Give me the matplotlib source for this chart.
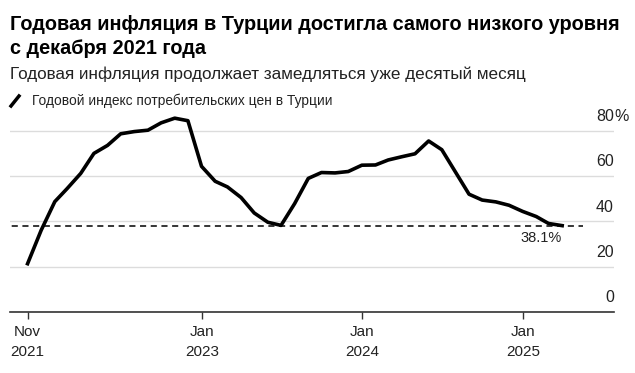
import matplotlib
matplotlib.use("Agg")
import matplotlib.pyplot as plt
import matplotlib.transforms as mtransforms
from matplotlib.lines import Line2D
import pandas as pd

# Turkey CPI, year-over-year %, monthly (plotted at month end)
months = pd.date_range("2021-11-30", "2025-03-31", freq="ME")
cpi_yoy = [21.31, 36.08,
           48.69, 54.44, 61.14, 69.97, 73.50, 78.62, 79.60, 80.21, 83.45, 85.51, 84.39, 64.27,
           57.68, 55.18, 50.51, 43.68, 39.59, 38.21, 47.83, 58.94, 61.53, 61.36, 61.98, 64.77,
           64.86, 67.07, 68.50, 69.80, 75.45, 71.60, 61.78, 51.97, 49.38, 48.58, 47.09, 44.38,
           42.12, 39.05, 38.10]

latest = 38.1
y_ticks = [0, 20, 40, 60, 80]
y_labels = ["0", "20", "40", "60", "80"]
x_ticks = pd.to_datetime(["2021-11-30", "2023-01-01", "2024-01-01", "2025-01-01"])
x_labels = ["Nov\n2021", "Jan\n2023", "Jan\n2024", "Jan\n2025"]

title = "Годовая инфляция в Турции достигла самого низкого уровня\nс декабря 2021 года"
subtitle = "Годовая инфляция продолжает замедляться уже десятый месяц"
legend_text = "Годовой индекс потребительских цен в Турции"

plt.rcParams["font.family"] = ["Liberation Sans", "DejaVu Sans"]

W, H = 635, 373
fig = plt.figure(figsize=(W / 100, H / 100), dpi=100)
ax = fig.add_axes([10 / W, (H - 312) / H, 604 / W, 204 / H])

ax.plot(months, cpi_yoy, color="black", lw=2.6, solid_joinstyle="round", zorder=3)
ax.hlines(latest, pd.Timestamp("2021-10-01"), pd.Timestamp("2025-05-18"),
          colors="black", linestyles=(0, (4, 3)), lw=1.1, zorder=2)

ax.set_xlim(pd.Timestamp("2021-10-21"), pd.Timestamp("2025-07-27"))
ax.set_ylim(0, 90)

ax.set_yticks(y_ticks)
ax.set_yticklabels([])
ax.tick_params(axis="y", length=0)
ax.grid(axis="y", color="#dcdcdc", lw=1)
ax.set_axisbelow(True)

ax.set_xticks(x_ticks)
ax.set_xticklabels(x_labels, fontsize=11, color="#222222", linespacing=1.6)
ax.tick_params(axis="x", length=5, width=1, color="#333333", pad=4)

for side in ["top", "right", "left"]:
    ax.spines[side].set_visible(False)
ax.spines["bottom"].set_color("#333333")
ax.spines["bottom"].set_linewidth(1.2)

# y labels sit above the gridlines, numbers right-aligned, "%" hanging past the edge
trans = mtransforms.blended_transform_factory(ax.transAxes, ax.transData)
up = trans + mtransforms.ScaledTranslation(0, 14 / 100, fig.dpi_scale_trans)
for v, lab in zip(y_ticks, y_labels):
    ax.text(1.0, v, lab, transform=up, ha="right", va="center", fontsize=11.5, color="#222222")
ax.text(1.0, y_ticks[-1], "%", transform=up, ha="left", va="center", fontsize=11.5, color="#222222")

ax.annotate(f"{latest}%", (months[-1], latest), xytext=(0, -4), textcoords="offset points",
            ha="right", va="top", fontsize=10.5, color="#222222")

fig.text(10 / W, 1 - 25 / H, title.split("\n")[0], ha="left", va="center", fontsize=14.3,
         fontweight="bold", color="black")
fig.text(10 / W, 1 - 48 / H, title.split("\n")[1], ha="left", va="center", fontsize=14.3,
         fontweight="bold", color="black")
fig.text(10 / W, 1 - 74 / H, subtitle, ha="left", va="center", fontsize=12.3, color="#222222")
fig.add_artist(Line2D([11 / W, 19 / W], [1 - 106 / H, 1 - 96 / H], color="black", lw=2.5))
fig.text(32 / W, 1 - 101 / H, legend_text, ha="left", va="center", fontsize=9.9, color="#222222")

fig.savefig("out.png", dpi=100)
